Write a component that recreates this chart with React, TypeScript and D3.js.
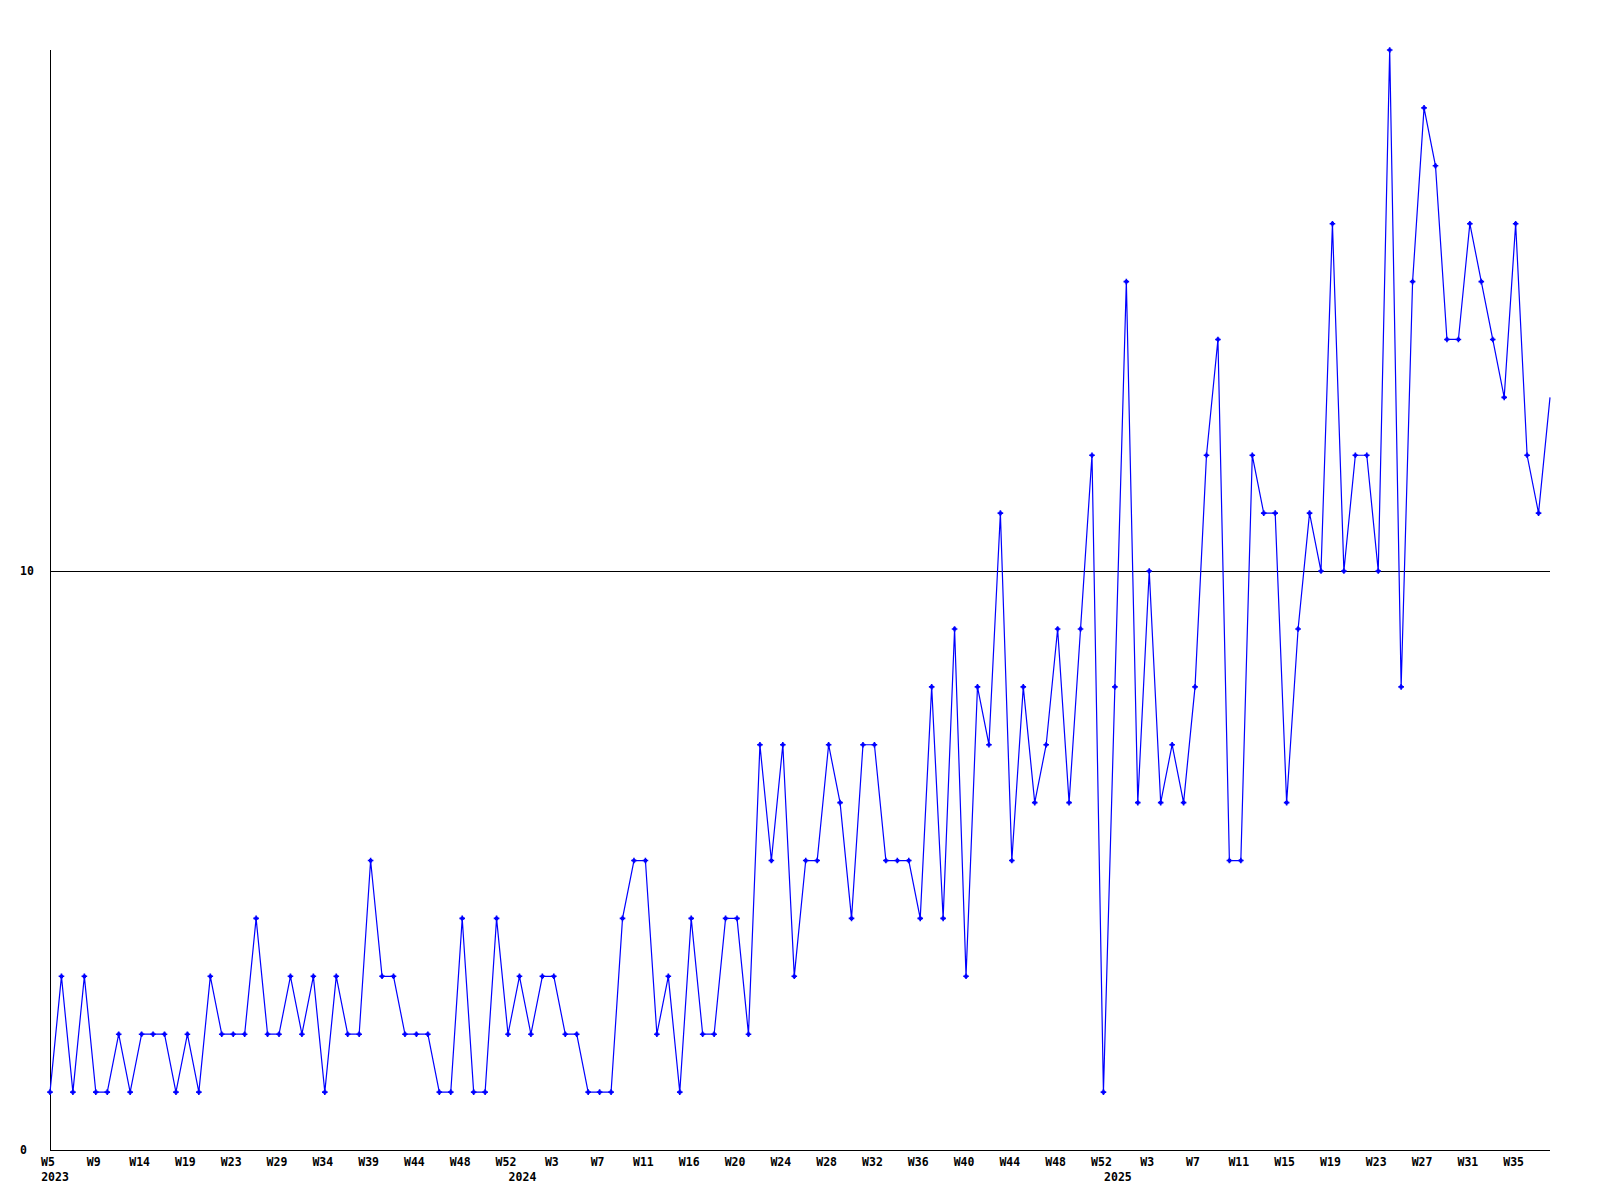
import React from "react";
import * as d3 from "d3";

const values: number[] = [
  1, 3, 1, 3, 1, 1, 2, 1, 2, 2,
  2, 1, 2, 1, 3, 2, 2, 2, 4, 2,
  2, 3, 2, 3, 1, 3, 2, 2, 5, 3,
  3, 2, 2, 2, 1, 1, 4, 1, 1, 4,
  2, 3, 2, 3, 3, 2, 2, 1, 1, 1,
  4, 5, 5, 2, 3, 1, 4, 2, 2, 4,
  4, 2, 7, 5, 7, 3, 5, 5, 7, 6,
  4, 7, 7, 5, 5, 5, 4, 8, 4, 9,
  3, 8, 7, 11, 5, 8, 6, 7, 9, 6,
  9, 12, 1, 8, 15, 6, 10, 6, 7, 6,
  8, 12, 14, 5, 5, 12, 11, 11, 6, 9,
  11, 10, 16, 10, 12, 12, 10, 19, 8, 15,
  18, 17, 14, 14, 16, 15, 14, 13, 16, 12,
  11, 13,
];

const weekLabels: string[] = [
  "W5", "W9", "W14", "W19", "W23", "W29", "W34", "W39", "W44", "W48", "W52",
  "W3", "W7", "W11", "W16", "W20", "W24", "W28", "W32", "W36", "W40", "W44", "W48", "W52",
  "W3", "W7", "W11", "W15", "W19", "W23", "W27", "W31", "W35",
];
const weekLabelStep = 4;

const yearLabels: string[] = ["2023", "2024", "2025"];
const yearStartIndex: number[] = [0, 41, 93];

const yTicks: number[] = [0, 10];
const yMax = 19;

const W = 1600;
const H = 1200;
const left = 50;
const right = 1550;
const top = 50;
const bottom = 1150;

const font = "'DejaVu Sans Mono', 'Liberation Mono', monospace";

export default function App() {
  const x = d3.scaleLinear().domain([0, values.length - 1]).range([left, right]);
  const y = d3.scaleLinear().domain([0, yMax]).range([bottom, top]);
  const line = d3
    .line<number>()
    .x((_, i) => x(i))
    .y((d) => y(d));

  const marker = "M-0.8,-2.8H0.8V-1.6H1.6V-0.8H2.8V0.8H1.6V1.6H0.8V2.8H-0.8V1.6H-1.6V0.8H-2.8V-0.8H-1.6V-1.6H-0.8Z";

  return (
    <svg
      width={W}
      height={H}
      style={{ position: "absolute", left: 0, top: 0, background: "#fff" }}
    >
      {yTicks
        .filter((t) => t > 0)
        .map((t) => (
          <line
            key={"g" + t}
            x1={left}
            x2={right}
            y1={Math.round(y(t)) + 0.5}
            y2={Math.round(y(t)) + 0.5}
            stroke="#000"
            strokeWidth={1}
            shapeRendering="crispEdges"
          />
        ))}
      <line x1={left + 0.5} x2={left + 0.5} y1={top} y2={bottom + 0.5} stroke="#000" shapeRendering="crispEdges" />
      <line x1={left} x2={right} y1={bottom + 0.5} y2={bottom + 0.5} stroke="#000" shapeRendering="crispEdges" />

      {yTicks.map((t) => (
        <text
          key={"y" + t}
          x={20}
          y={y(t) + 4}
          fontFamily={font}
          fontWeight="bold"
          fontSize={11.5}
          fill="#000"
        >
          {t}
        </text>
      ))}

      {weekLabels.map((lab, i) => (
        <text
          key={"w" + i}
          x={x(i * weekLabelStep) - 2}
          y={1166}
          textAnchor="middle"
          fontFamily={font}
          fontWeight="bold"
          fontSize={11.5}
          fill="#000"
        >
          {lab}
        </text>
      ))}

      {yearLabels.map((lab, i) => {
        const cx = x(yearStartIndex[i]) + 3;
        const half = 14;
        const c = Math.max(cx, left - 9 + half);
        return (
          <text
            key={"yr" + lab}
            x={c}
            y={1181}
            textAnchor="middle"
            fontFamily={font}
            fontWeight="bold"
            fontSize={11.5}
            fill="#000"
          >
            {lab}
          </text>
        );
      })}

      <path d={line(values) || ""} fill="none" stroke="#0000ff" strokeWidth={1.2} />
      {values.slice(0, values.length - 1).map((v, i) => (
        <path key={"m" + i} d={marker} transform={`translate(${x(i)},${y(v)})`} fill="#0000ff" />
      ))}
    </svg>
  );
}
